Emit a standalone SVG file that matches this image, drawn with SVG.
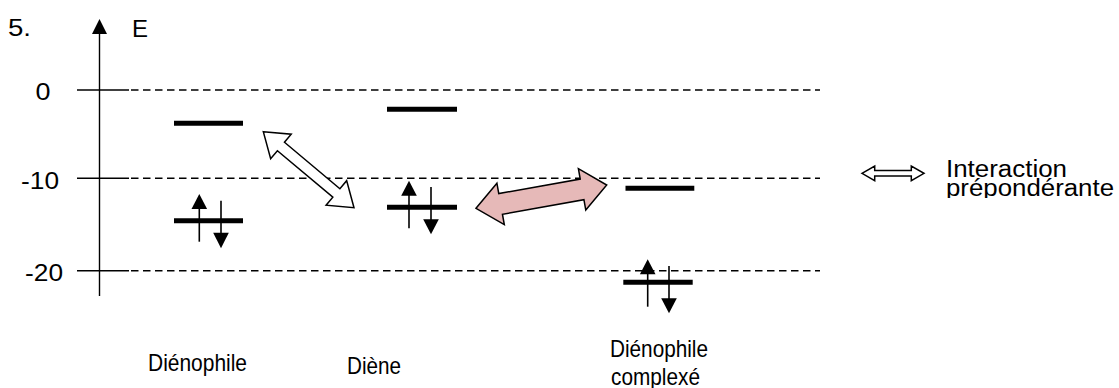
<svg xmlns="http://www.w3.org/2000/svg" width="1119" height="388" viewBox="0 0 1119 388">
<style>
text{font-family:"Liberation Sans",Arial,sans-serif;font-size:24px;fill:#000}
.leg{font-size:23px}
.tick{stroke:#000;stroke-width:1.4;fill:none}
.dash{stroke:#000;stroke-width:1.4;stroke-dasharray:7.5 4.5;fill:none}
.lvl{stroke:#000;stroke-width:5;fill:none}
.spin{stroke:#000;stroke-width:1.6;fill:none}
.head{fill:#000;stroke:none}
.dbl{stroke:#000;stroke-width:1.5;stroke-linejoin:miter}
</style>
<defs>
<clipPath id="legclip"><rect x="940" y="150" width="179" height="48"/></clipPath>
</defs>
<g id="axis">
<line class="tick" x1="99.5" y1="30" x2="99.5" y2="296"/>
<polygon class="head" points="99.5,19 92,34 107,34"/>
<text x="132" y="37" textLength="16" lengthAdjust="spacingAndGlyphs">E</text>
<text x="8" y="36" textLength="23" lengthAdjust="spacingAndGlyphs">5.</text>
<line class="tick" x1="77" y1="90" x2="129" y2="90"/>
<line class="dash" x1="131" y1="90" x2="820" y2="90"/>
<line class="tick" x1="77" y1="178.3" x2="129" y2="178.3"/>
<line class="dash" x1="131" y1="178.3" x2="820" y2="178.3"/>
<line class="tick" x1="77" y1="270.7" x2="129" y2="270.7"/>
<line class="dash" x1="131" y1="270.7" x2="820" y2="270.7"/>
<text x="35.5" y="100" textLength="15" lengthAdjust="spacingAndGlyphs">0</text>
<text x="21" y="189" textLength="38" lengthAdjust="spacingAndGlyphs">-10</text>
<text x="25" y="281" textLength="38" lengthAdjust="spacingAndGlyphs">-20</text>
</g>
<g id="dienophile">
<line class="lvl" x1="174" y1="123.3" x2="243" y2="123.3"/>
<line class="lvl" x1="174" y1="220.7" x2="243" y2="220.7"/>
<line class="spin" x1="199.3" y1="207" x2="199.3" y2="241.7"/>
<polygon class="head" points="199.3,194 191.5,209 207.1,209"/>
<line class="spin" x1="221" y1="200.7" x2="221" y2="234"/>
<polygon class="head" points="221,248.3 213.2,232.7 228.8,232.7"/>
<text x="148" y="371" textLength="99" lengthAdjust="spacingAndGlyphs">Diénophile</text>
</g>
<g id="diene">
<line class="lvl" x1="387" y1="109.3" x2="457" y2="109.3"/>
<line class="lvl" x1="387" y1="207.3" x2="457" y2="207.3"/>
<line class="spin" x1="409" y1="194" x2="409" y2="228.3"/>
<polygon class="head" points="409,180.7 401.2,195.7 416.8,195.7"/>
<line class="spin" x1="431" y1="187" x2="431" y2="221"/>
<polygon class="head" points="431,234.3 423.2,219.3 438.8,219.3"/>
<text x="347" y="374" textLength="54" lengthAdjust="spacingAndGlyphs">Diène</text>
</g>
<g id="dienophile-complexe">
<line class="lvl" x1="625.5" y1="188.3" x2="694.3" y2="188.3"/>
<line class="lvl" x1="623.3" y1="282.3" x2="692.7" y2="282.3"/>
<line class="spin" x1="647.7" y1="272" x2="647.7" y2="306.7"/>
<polygon class="head" points="647.7,259.3 639.9,274.3 655.5,274.3"/>
<line class="spin" x1="669" y1="266" x2="669" y2="299"/>
<polygon class="head" points="669,313.3 661.2,298.3 676.8,298.3"/>
<text x="610" y="357" textLength="98" lengthAdjust="spacingAndGlyphs">Diénophile</text>
<text x="611" y="385" textLength="89" lengthAdjust="spacingAndGlyphs">complexé</text>
</g>
<g id="connectors">
<polygon class="dbl" fill="#ffffff" points="263.3,131.7 291.21,134.21 284.46,142.26 339.9,188.7 346.65,180.65 354,207.7 326.09,205.19 332.84,197.14 277.4,150.7 270.65,158.75"/>
<polygon class="dbl" fill="#E6B9B8" points="476,208.3 496.92,183.24 498.77,193.57 580.25,179.05 578.4,168.72 606.7,185 585.78,210.06 583.93,199.73 502.45,214.25 504.3,224.58"/>
</g>
<g id="legend">
<polygon class="dbl" fill="#ffffff" stroke-width="1.3" points="862,173.3 874.7,166 874.7,170.6 911.3,170.6 911.3,166 924,173.3 911.3,180.6 911.3,176 874.7,176 874.7,180.6"/>
<g clip-path="url(#legclip)">
<text class="leg" x="946" y="177" textLength="121" lengthAdjust="spacingAndGlyphs">Interaction</text>
<text class="leg" x="946" y="196" textLength="168" lengthAdjust="spacingAndGlyphs">prépondérante</text>
</g>
</g>
</svg>
